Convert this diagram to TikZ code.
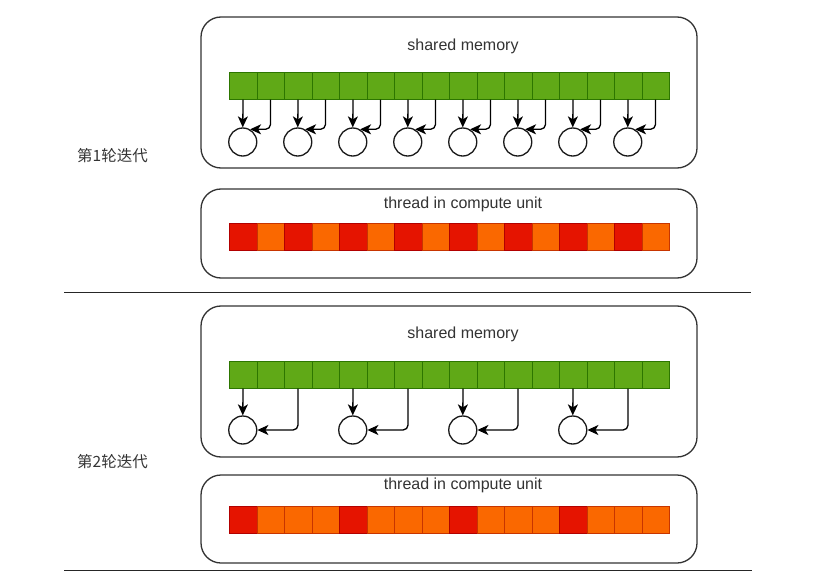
\documentclass[tikz,border=0pt]{standalone}
\usepackage{fontspec}
\setmainfont{Liberation Sans}
\newfontfamily\cjk{Noto Sans CJK SC}
\usetikzlibrary{arrows.meta}
\definecolor{gfill}{HTML}{60A917}
\definecolor{gline}{HTML}{2D7600}
\definecolor{rfill}{HTML}{E51400}
\definecolor{rline}{HTML}{B20000}
\definecolor{ofill}{HTML}{FA6800}
\definecolor{oline}{HTML}{C73500}
\definecolor{ink}{HTML}{333333}
\tikzset{
  panel/.style={draw=ink, line width=1.3pt, rounded corners=20pt, fill=white, inner sep=0pt},
  cellbase/.style={minimum width=27.5pt, minimum height=27pt, inner sep=0pt, anchor=north west, line width=0.6pt},
  gcell/.style={cellbase, draw=gline, fill=gfill},
  rcell/.style={cellbase, draw=rline, fill=rfill},
  ocell/.style={cellbase, draw=oline, fill=ofill},
  slot/.style={circle, draw=black!90, line width=1.3pt, minimum size=28pt, inner sep=0pt},
  link/.style={draw=black, line width=1.3pt, rounded corners=5pt, -{Stealth[length=11pt,width=10pt,inset=3pt]}},
  title/.style={font=\fontsize{16}{18}\selectfont, text=ink, inner sep=0pt},
  roundlabel/.style={font=\cjk\fontsize{15.5}{18}\selectfont, text=ink, inner sep=0pt},
  sep/.style={draw=black!85, line width=1.3pt}
}
\begin{document}
\begin{tikzpicture}[x=1pt,y=-1pt]
\useasboundingbox (0,0) rectangle (819,572);
% ---------- round 1 ----------
\node[panel, minimum width=496pt, minimum height=151pt] (p1) at (449,92.5) {};
\node[title] (t1) at (463,46) {shared memory};
\foreach \i in {0,...,15} {
  \node[gcell] (a\i) at ({229+27.5*\i},72) {};
}
\foreach \k in {0,...,7} {
  \node[slot] (c\k) at ({242.75+55*\k},142) {};
}
\foreach \k in {0,...,7} {
  \pgfmathtruncatemacro{\e}{2*\k}
  \pgfmathtruncatemacro{\o}{2*\k+1}
  \draw[link] (a\e.south) -- (c\k.north);
  \draw[link] (a\o.south) |- (c\k.60);
}
\node[panel, minimum width=496pt, minimum height=89pt] (q1) at (449,233.5) {};
\node[title] (u1) at (463,204) {thread in compute unit};
\foreach \i in {0,...,15} {
  \pgfmathtruncatemacro{\m}{mod(\i,2)}
  \ifnum\m=0
    \node[rcell] (r\i) at ({229+27.5*\i},223) {};
  \else
    \node[ocell] (r\i) at ({229+27.5*\i},223) {};
  \fi
}
\node[roundlabel] (lab1) at (112.5,156) {第1轮迭代};
\coordinate (s1a) at (64,292.5);
\coordinate (s1b) at (751,292.5);
\draw[sep] (s1a) -- (s1b);
% ---------- round 2 ----------
\node[panel, minimum width=496pt, minimum height=151pt] (p2) at (449,381.5) {};
\node[title] (t2) at (463,334) {shared memory};
\foreach \i in {0,...,15} {
  \node[gcell] (b\i) at ({229+27.5*\i},361) {};
}
\foreach \k in {0,...,3} {
  \node[slot] (d\k) at ({242.75+110*\k},430) {};
}
\foreach \k in {0,...,3} {
  \pgfmathtruncatemacro{\e}{4*\k}
  \pgfmathtruncatemacro{\o}{4*\k+2}
  \draw[link] (b\e.south) -- (d\k.north);
  \draw[link] (b\o.south) |- (d\k.east);
}
\node[panel, minimum width=496pt, minimum height=88pt] (q2) at (449,519) {};
\node[title] (u2) at (463,485.5) {thread in compute unit};
\foreach \i in {0,...,15} {
  \pgfmathtruncatemacro{\m}{mod(\i,4)}
  \ifnum\m=0
    \node[rcell] (w\i) at ({229+27.5*\i},505.5) {};
  \else
    \node[ocell] (w\i) at ({229+27.5*\i},505.5) {};
  \fi
}
\node[roundlabel] (lab2) at (112.5,462) {第2轮迭代};
\coordinate (s2a) at (64,570.5);
\coordinate (s2b) at (752,570.5);
\draw[sep] (s2a) -- (s2b);
\end{tikzpicture}
\end{document}
